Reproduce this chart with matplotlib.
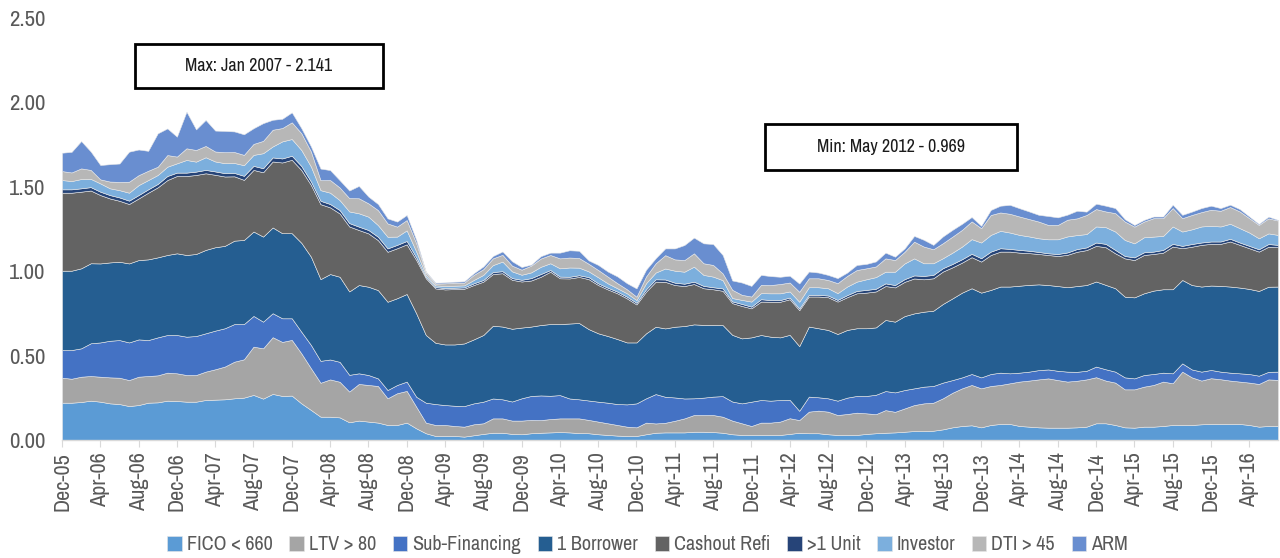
import matplotlib
matplotlib.use("Agg")
import matplotlib.pyplot as plt
from matplotlib import font_manager
from matplotlib.patches import Rectangle
import numpy as np
import pandas as pd

# look for a narrow face (the original uses a very condensed font)
fonts = font_manager.fontManager.ttflist
narrow = [f.name for f in fonts if 'Narrow' in f.name or 'Condensed' in f.name]
dejavu_cond = [f for f in fonts if f.name == 'DejaVu Sans' and 'condensed' in str(f.stretch).lower()]
if narrow:
    plt.rcParams['font.family'] = [narrow[0], 'DejaVu Sans']
    shrink = 1.0
elif dejavu_cond:
    plt.rcParams['font.family'] = ['DejaVu Sans']
    plt.rcParams['font.stretch'] = 'condensed'
    shrink = 0.9
else:
    plt.rcParams['font.family'] = ['DejaVu Sans']
    shrink = 0.8

# monthly, Dec-05 .. Jul-16
months = pd.date_range('2005-12-01', periods=128, freq='MS')

fico = [0.221, 0.221, 0.225, 0.233, 0.227, 0.217, 0.213, 0.201, 0.207, 0.221,
        0.223, 0.233, 0.231, 0.227, 0.227, 0.237, 0.239, 0.241, 0.247, 0.251,
        0.267, 0.245, 0.273, 0.261, 0.263, 0.217, 0.178, 0.138, 0.138, 0.134,
        0.105, 0.115, 0.109, 0.103, 0.089, 0.089, 0.103, 0.069, 0.040, 0.024,
        0.024, 0.024, 0.020, 0.028, 0.036, 0.043, 0.043, 0.036, 0.034, 0.040,
        0.043, 0.045, 0.047, 0.045, 0.041, 0.040, 0.034, 0.030, 0.026, 0.024,
        0.024, 0.034, 0.043, 0.045, 0.045, 0.045, 0.049, 0.049, 0.047, 0.043,
        0.034, 0.030, 0.030, 0.030, 0.030, 0.030, 0.036, 0.043, 0.040, 0.040,
        0.034, 0.030, 0.030, 0.030, 0.036, 0.040, 0.043, 0.045, 0.049, 0.053,
        0.053, 0.055, 0.063, 0.075, 0.083, 0.087, 0.075, 0.089, 0.095, 0.095,
        0.083, 0.079, 0.075, 0.073, 0.073, 0.073, 0.075, 0.079, 0.099, 0.099,
        0.089, 0.075, 0.073, 0.079, 0.079, 0.083, 0.089, 0.089, 0.089, 0.093,
        0.095, 0.095, 0.095, 0.095, 0.089, 0.079, 0.083, 0.083]
ltv = [0.148, 0.142, 0.150, 0.146, 0.148, 0.154, 0.156, 0.154, 0.168, 0.158,
       0.160, 0.166, 0.164, 0.158, 0.158, 0.168, 0.180, 0.194, 0.217, 0.227,
       0.286, 0.298, 0.336, 0.320, 0.330, 0.296, 0.247, 0.201, 0.221, 0.211,
       0.182, 0.217, 0.217, 0.217, 0.158, 0.188, 0.188, 0.128, 0.063, 0.065,
       0.065, 0.059, 0.059, 0.065, 0.063, 0.085, 0.085, 0.079, 0.081, 0.079,
       0.075, 0.079, 0.081, 0.083, 0.087, 0.079, 0.075, 0.069, 0.063, 0.055,
       0.051, 0.069, 0.055, 0.057, 0.069, 0.083, 0.099, 0.099, 0.101, 0.095,
       0.081, 0.069, 0.053, 0.073, 0.073, 0.079, 0.093, 0.075, 0.128, 0.134,
       0.134, 0.118, 0.124, 0.132, 0.122, 0.113, 0.134, 0.122, 0.138, 0.154,
       0.164, 0.166, 0.184, 0.205, 0.223, 0.239, 0.231, 0.231, 0.231, 0.241,
       0.263, 0.273, 0.284, 0.292, 0.282, 0.273, 0.276, 0.280, 0.273, 0.253,
       0.251, 0.225, 0.227, 0.237, 0.247, 0.263, 0.247, 0.316, 0.282, 0.259,
       0.271, 0.265, 0.257, 0.251, 0.251, 0.253, 0.276, 0.273]
sub_fin = [0.164, 0.170, 0.168, 0.194, 0.203, 0.217, 0.223, 0.223, 0.221, 0.213,
           0.225, 0.223, 0.227, 0.227, 0.231, 0.227, 0.229, 0.227, 0.223, 0.209,
           0.182, 0.158, 0.142, 0.140, 0.128, 0.128, 0.138, 0.130, 0.118, 0.118,
           0.099, 0.063, 0.059, 0.045, 0.049, 0.049, 0.055, 0.059, 0.118, 0.124,
           0.118, 0.120, 0.122, 0.124, 0.128, 0.118, 0.113, 0.113, 0.132, 0.142,
           0.146, 0.138, 0.138, 0.118, 0.113, 0.115, 0.118, 0.122, 0.124, 0.132,
           0.142, 0.144, 0.174, 0.154, 0.138, 0.118, 0.099, 0.103, 0.109, 0.122,
           0.113, 0.118, 0.144, 0.134, 0.130, 0.128, 0.109, 0.055, 0.089, 0.079,
           0.079, 0.085, 0.097, 0.099, 0.103, 0.115, 0.113, 0.115, 0.109, 0.099,
           0.099, 0.099, 0.093, 0.075, 0.065, 0.065, 0.065, 0.071, 0.073, 0.059,
           0.053, 0.053, 0.055, 0.053, 0.055, 0.059, 0.053, 0.051, 0.063, 0.067,
           0.065, 0.071, 0.065, 0.069, 0.065, 0.053, 0.059, 0.049, 0.047, 0.053,
           0.049, 0.045, 0.047, 0.049, 0.051, 0.049, 0.045, 0.049]
one_borrower = [0.470, 0.470, 0.474, 0.474, 0.468, 0.464, 0.464, 0.468, 0.470, 0.478,
                0.474, 0.474, 0.484, 0.484, 0.486, 0.494, 0.494, 0.488, 0.494, 0.498,
                0.500, 0.504, 0.508, 0.504, 0.504, 0.527, 0.523, 0.484, 0.506, 0.504,
                0.494, 0.523, 0.523, 0.523, 0.523, 0.514, 0.519, 0.494, 0.401, 0.363,
                0.359, 0.363, 0.371, 0.379, 0.395, 0.431, 0.431, 0.431, 0.419, 0.411,
                0.417, 0.425, 0.421, 0.444, 0.452, 0.423, 0.405, 0.395, 0.385, 0.367,
                0.361, 0.385, 0.399, 0.405, 0.419, 0.429, 0.438, 0.431, 0.425, 0.421,
                0.395, 0.385, 0.381, 0.385, 0.379, 0.371, 0.385, 0.383, 0.415, 0.409,
                0.405, 0.395, 0.401, 0.401, 0.401, 0.399, 0.421, 0.419, 0.438, 0.444,
                0.444, 0.446, 0.466, 0.484, 0.502, 0.508, 0.502, 0.498, 0.510, 0.514,
                0.515, 0.514, 0.508, 0.500, 0.502, 0.500, 0.508, 0.508, 0.504, 0.500,
                0.494, 0.478, 0.480, 0.484, 0.494, 0.494, 0.498, 0.494, 0.500, 0.504,
                0.500, 0.508, 0.510, 0.508, 0.504, 0.502, 0.504, 0.504]
cashout = [0.462, 0.462, 0.454, 0.431, 0.405, 0.379, 0.361, 0.352, 0.365, 0.395,
           0.415, 0.444, 0.458, 0.468, 0.468, 0.454, 0.429, 0.411, 0.381, 0.356,
           0.365, 0.381, 0.391, 0.419, 0.435, 0.431, 0.425, 0.444, 0.395, 0.375,
           0.385, 0.326, 0.316, 0.296, 0.296, 0.296, 0.294, 0.316, 0.336, 0.322,
           0.326, 0.328, 0.324, 0.322, 0.316, 0.306, 0.316, 0.290, 0.273, 0.273,
           0.286, 0.310, 0.271, 0.267, 0.273, 0.296, 0.286, 0.276, 0.271, 0.261,
           0.225, 0.247, 0.267, 0.276, 0.247, 0.237, 0.239, 0.217, 0.211, 0.203,
           0.188, 0.192, 0.172, 0.198, 0.207, 0.211, 0.211, 0.213, 0.178, 0.188,
           0.194, 0.192, 0.194, 0.207, 0.211, 0.213, 0.201, 0.203, 0.203, 0.207,
           0.192, 0.192, 0.192, 0.184, 0.178, 0.184, 0.184, 0.207, 0.207, 0.207,
           0.196, 0.188, 0.180, 0.178, 0.178, 0.192, 0.203, 0.207, 0.211, 0.223,
           0.207, 0.227, 0.221, 0.227, 0.217, 0.217, 0.253, 0.188, 0.227, 0.247,
           0.247, 0.249, 0.267, 0.253, 0.241, 0.233, 0.237, 0.233]
multi_unit = [0.020, 0.020, 0.020, 0.020, 0.020, 0.020, 0.020, 0.020, 0.020, 0.020,
              0.020, 0.024, 0.020, 0.020, 0.020, 0.020, 0.020, 0.020, 0.020, 0.024,
              0.024, 0.024, 0.024, 0.024, 0.024, 0.024, 0.020, 0.020, 0.020, 0.020,
              0.020, 0.020, 0.020, 0.020, 0.020, 0.020, 0.020, 0.016, 0.008, 0.008,
              0.008, 0.008, 0.008, 0.010, 0.010, 0.012, 0.012, 0.010, 0.010, 0.014,
              0.016, 0.010, 0.010, 0.010, 0.010, 0.012, 0.010, 0.010, 0.010, 0.010,
              0.010, 0.014, 0.014, 0.014, 0.014, 0.014, 0.014, 0.014, 0.012, 0.014,
              0.010, 0.012, 0.010, 0.014, 0.010, 0.010, 0.010, 0.010, 0.010, 0.010,
              0.010, 0.010, 0.012, 0.014, 0.016, 0.016, 0.016, 0.014, 0.016, 0.018,
              0.020, 0.020, 0.020, 0.020, 0.020, 0.020, 0.020, 0.020, 0.020, 0.016,
              0.016, 0.014, 0.012, 0.010, 0.012, 0.014, 0.016, 0.016, 0.020, 0.020,
              0.020, 0.014, 0.016, 0.016, 0.014, 0.016, 0.016, 0.014, 0.016, 0.014,
              0.014, 0.014, 0.016, 0.014, 0.014, 0.014, 0.016, 0.014]
investor = [0.055, 0.049, 0.055, 0.049, 0.049, 0.040, 0.043, 0.047, 0.059, 0.055,
            0.053, 0.055, 0.055, 0.075, 0.059, 0.075, 0.059, 0.059, 0.059, 0.063,
            0.065, 0.089, 0.065, 0.101, 0.099, 0.095, 0.089, 0.063, 0.067, 0.059,
            0.069, 0.079, 0.079, 0.069, 0.069, 0.049, 0.063, 0.034, 0.012, 0.010,
            0.012, 0.012, 0.012, 0.020, 0.030, 0.041, 0.057, 0.040, 0.030, 0.034,
            0.043, 0.040, 0.049, 0.055, 0.045, 0.034, 0.036, 0.026, 0.020, 0.020,
            0.016, 0.036, 0.040, 0.065, 0.071, 0.071, 0.089, 0.065, 0.063, 0.049,
            0.020, 0.024, 0.030, 0.036, 0.040, 0.040, 0.036, 0.040, 0.045, 0.045,
            0.043, 0.040, 0.051, 0.055, 0.063, 0.069, 0.069, 0.079, 0.093, 0.101,
            0.075, 0.069, 0.059, 0.067, 0.075, 0.087, 0.093, 0.099, 0.103, 0.097,
            0.089, 0.085, 0.081, 0.083, 0.087, 0.095, 0.083, 0.079, 0.095, 0.099,
            0.109, 0.095, 0.083, 0.089, 0.089, 0.083, 0.103, 0.085, 0.087, 0.095,
            0.093, 0.089, 0.089, 0.085, 0.079, 0.065, 0.063, 0.059]
dti = [0.053, 0.051, 0.063, 0.053, 0.024, 0.040, 0.049, 0.065, 0.059, 0.055,
       0.049, 0.069, 0.040, 0.069, 0.069, 0.067, 0.059, 0.065, 0.065, 0.061,
       0.065, 0.073, 0.099, 0.079, 0.099, 0.099, 0.089, 0.059, 0.075, 0.075,
       0.079, 0.089, 0.079, 0.089, 0.079, 0.059, 0.061, 0.049, 0.014, 0.010,
       0.016, 0.018, 0.016, 0.030, 0.034, 0.040, 0.040, 0.034, 0.030, 0.040,
       0.049, 0.049, 0.059, 0.059, 0.057, 0.045, 0.043, 0.040, 0.030, 0.024,
       0.020, 0.040, 0.055, 0.079, 0.067, 0.069, 0.079, 0.069, 0.069, 0.040,
       0.049, 0.030, 0.030, 0.049, 0.049, 0.055, 0.053, 0.059, 0.053, 0.053,
       0.049, 0.059, 0.063, 0.069, 0.065, 0.063, 0.079, 0.069, 0.069, 0.099,
       0.099, 0.083, 0.089, 0.095, 0.099, 0.105, 0.085, 0.118, 0.109, 0.111,
       0.109, 0.103, 0.099, 0.085, 0.085, 0.099, 0.099, 0.113, 0.103, 0.093,
       0.109, 0.109, 0.099, 0.093, 0.109, 0.105, 0.109, 0.079, 0.085, 0.085,
       0.095, 0.093, 0.099, 0.099, 0.085, 0.079, 0.089, 0.085]
arm = [0.109, 0.122, 0.162, 0.109, 0.085, 0.103, 0.109, 0.178, 0.152, 0.118,
       0.198, 0.158, 0.118, 0.217, 0.122, 0.154, 0.124, 0.126, 0.122, 0.122,
       0.093, 0.105, 0.059, 0.055, 0.059, 0.030, 0.030, 0.069, 0.059, 0.043,
       0.045, 0.073, 0.040, 0.036, 0.030, 0.030, 0.030, 0.020, 0.006, 0.006,
       0.006, 0.006, 0.008, 0.010, 0.016, 0.014, 0.020, 0.026, 0.016, 0.006,
       0.014, 0.014, 0.034, 0.043, 0.043, 0.020, 0.030, 0.030, 0.040, 0.036,
       0.049, 0.040, 0.030, 0.040, 0.065, 0.089, 0.093, 0.118, 0.124, 0.109,
       0.055, 0.073, 0.063, 0.059, 0.053, 0.043, 0.040, 0.049, 0.040, 0.034,
       0.030, 0.030, 0.020, 0.030, 0.026, 0.030, 0.034, 0.020, 0.020, 0.034,
       0.040, 0.026, 0.040, 0.040, 0.036, 0.026, 0.014, 0.030, 0.040, 0.053,
       0.049, 0.045, 0.040, 0.053, 0.045, 0.030, 0.045, 0.020, 0.032, 0.034,
       0.030, 0.014, 0.010, 0.010, 0.010, 0.010, 0.020, 0.020, 0.020, 0.024,
       0.024, 0.016, 0.014, 0.014, 0.010, 0.006, 0.010, 0.004]

labels = ['FICO < 660', 'LTV > 80', 'Sub-Financing', '1 Borrower', 'Cashout Refi',
          '>1 Unit', 'Investor', 'DTI > 45', 'ARM']
colors = ['#5B9BD5', '#A5A5A5', '#4472C4', '#255E91', '#636363',
          '#264478', '#7CAFDD', '#B7B7B7', '#698ED0']

max_note = 'Max: Jan 2007 - 2.141'
min_note = 'Min: May 2012 - 0.969'

fig = plt.figure(figsize=(12.8, 5.58), dpi=100)
ax = fig.add_axes([62 / 1280, 1 - 440 / 558, 1216 / 1280, 422 / 558])

x = np.arange(len(months))
polys = ax.stackplot(x, fico, ltv, sub_fin, one_borrower, cashout, multi_unit,
                     investor, dti, arm, colors=colors, labels=labels,
                     edgecolor='#e8e8e8', linewidth=0.4)

ax.set_xlim(0, len(months) - 1)
ax.set_ylim(0, 2.5)
ax.set_yticks(np.arange(0, 2.51, 0.5))
ax.set_yticklabels(['%.2f' % v for v in np.arange(0, 2.51, 0.5)])

tick_pos = x[::4]
ax.set_xticks(tick_pos)
ax.set_xticklabels([months[i].strftime('%b-%y') for i in tick_pos], rotation=90)

for s in ['top', 'right', 'left']:
    ax.spines[s].set_visible(False)
ax.spines['bottom'].set_color('#d9d9d9')
ax.spines['bottom'].set_linewidth(1)
ax.tick_params(axis='y', length=0, labelsize=16.5 * shrink, labelcolor='#595959', pad=12)
ax.tick_params(axis='x', length=5, color='#d9d9d9', labelsize=16 * shrink,
               labelcolor='#595959', pad=4)

# annotation boxes
for (x0, y0, w, h, txt) in [(135, 44, 248, 44, max_note), (765, 124, 252, 46, min_note)]:
    fig.patches.append(Rectangle((x0 / 1280, 1 - (y0 + h) / 558), w / 1280, h / 558,
                                 transform=fig.transFigure, fill=False,
                                 edgecolor='black', linewidth=2))
    fig.text((x0 + w / 2) / 1280, 1 - (y0 + h / 2) / 558, txt, ha='center',
             va='center', fontsize=13 * shrink, color='#1a1a1a')

fig.legend(handles=polys, labels=labels, loc='center', bbox_to_anchor=(0.506, 1 - 545 / 558),
           ncol=9, frameon=False, fontsize=14.5 * shrink, handlelength=0.7, handleheight=0.7,
           handletextpad=0.25, columnspacing=0.85, labelcolor='#595959')

fig.savefig('out.png', dpi=100)
